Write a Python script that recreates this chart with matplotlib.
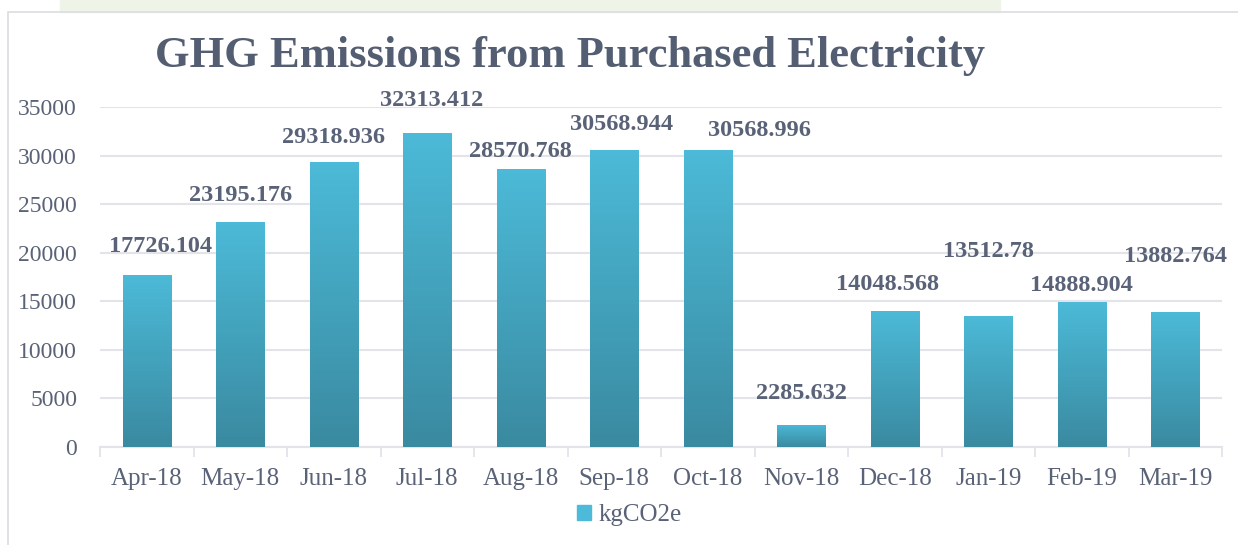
import matplotlib.pyplot as plt
import numpy as np
from matplotlib.patches import Rectangle
from matplotlib.colors import LinearSegmentedColormap

# chart data
MONTHS = ['Apr-18', 'May-18', 'Jun-18', 'Jul-18', 'Aug-18', 'Sep-18',
          'Oct-18', 'Nov-18', 'Dec-18', 'Jan-19', 'Feb-19', 'Mar-19']
KG_CO2E = [17726.104, 23195.176, 29318.936, 32313.412, 28570.768, 30568.944,
           30568.996, 2285.632, 14048.568, 13512.78, 14888.904, 13882.764]
VALUE_LABELS = ['17726.104', '23195.176', '29318.936', '32313.412', '28570.768',
                '30568.944', '30568.996', '2285.632', '14048.568', '13512.78',
                '14888.904', '13882.764']
Y_TICKS = [0, 5000, 10000, 15000, 20000, 25000, 30000, 35000]

# hand-placed data labels in the original (pixel nudges from bar top centre)
LABEL_DX = [14, 0, 0, 4, 0, 7, 52, 0, -7, 0, 0, 0]
LABEL_DY = [28, 26, 25, 33, 18, 26, 20, 31, 26, 64, 17, 56]

TEXT_COLOR = '#596277'
GRID_COLOR = '#E3E3EA'
BAR_TOP = '#4CBAD8'
BAR_BOTTOM = '#3A8AA0'

plt.rcParams['font.family'] = ['Liberation Serif', 'DejaVu Serif']

W, H = 1238, 545
fig = plt.figure(figsize=(W / 100, H / 100), dpi=100)
PX = 72 / 100  # points per pixel

# faint green texture strip at the top and the chart frame
fig.patches.append(Rectangle((60 / W, 1 - 12 / H), 940 / W, 12 / H,
                             transform=fig.transFigure, color='#EEF5E8',
                             zorder=-2))
fig.patches.append(Rectangle((8 / W, -0.05), 1.1, 1 - 12 / H + 0.05,
                             transform=fig.transFigure, fill=False,
                             edgecolor='#DCDCE2', lw=1.2, zorder=-1))

ax = fig.add_axes([100 / W, (H - 447) / H, 1122 / W, 340 / H], zorder=2)
ax.set_facecolor('none')

x = np.arange(len(MONTHS))
bars = ax.bar(x, KG_CO2E, width=0.515, color=BAR_TOP, zorder=2)

# vertical gradient in every bar
cmap = LinearSegmentedColormap.from_list('bar', [BAR_BOTTOM, BAR_TOP])
grad = np.linspace(0, 1, 256).reshape(-1, 1)
for b in bars:
    x0, w, h = b.get_x(), b.get_width(), b.get_height()
    im = ax.imshow(grad, cmap=cmap, origin='lower', aspect='auto',
                   extent=[x0, x0 + w, 0, h], zorder=3)
    im.set_clip_path(b)

ax.set_xlim(-0.5, len(MONTHS) - 0.5)
ax.set_ylim(0, 35000)

# value labels above bars
for xi, val, lab, dx, dy in zip(x, KG_CO2E, VALUE_LABELS, LABEL_DX, LABEL_DY):
    ax.annotate(lab, (xi, val), xytext=(dx * PX, dy * PX),
                textcoords='offset points', ha='center', va='center',
                fontsize=17.5, fontweight='bold', color=TEXT_COLOR,
                zorder=5, annotation_clip=False)

ax.set_yticks(Y_TICKS)
ax.yaxis.grid(True, color=GRID_COLOR, lw=1.5, zorder=0)
ax.set_axisbelow(True)
ax.tick_params(axis='y', length=0, labelsize=17, labelcolor=TEXT_COLOR, pad=16.5)

ax.set_xticks(x)
ax.set_xticklabels(MONTHS)
ax.set_xticks(np.arange(len(MONTHS) + 1) - 0.5, minor=True)
ax.tick_params(axis='x', which='major', length=0, labelsize=18,
               labelcolor=TEXT_COLOR, pad=15)
ax.tick_params(axis='x', which='minor', length=7, width=1.3,
               color=GRID_COLOR)

for s in ['top', 'right', 'left']:
    ax.spines[s].set_visible(False)
ax.spines['bottom'].set_color(GRID_COLOR)
ax.spines['bottom'].set_linewidth(1.5)

fig.text(570 / W, 1 - 67 / H, 'GHG Emissions from Purchased Electricity',
         ha='center', va='baseline', fontsize=32, fontweight='bold',
         color='#545E73')

# legend
leg_sq = Rectangle((0, 0), 1, 1, color=BAR_TOP)
ax.legend([leg_sq], ['kgCO2e'], loc='center', bbox_to_anchor=(629 / W, 1 - 515 / H),
          bbox_transform=fig.transFigure, frameon=False, fontsize=18,
          labelcolor=TEXT_COLOR, handlelength=0.56, handleheight=0.56,
          handletextpad=0.3)

fig.savefig('out.png', dpi=100)
